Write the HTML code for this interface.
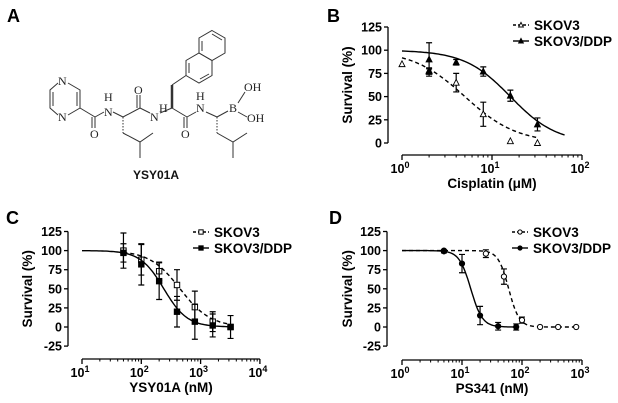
<!DOCTYPE html>
<html><head><meta charset="utf-8"><style>
html,body{margin:0;padding:0;background:#fff;}
svg{display:block;font-family:"Liberation Sans",Arial,sans-serif;}
</style></head><body>
<svg id="fig" width="618" height="403" viewBox="0 0 618 403" xmlns="http://www.w3.org/2000/svg">
<g font-family="Liberation Serif,serif" font-size="12" fill="#222">
<text x="7" y="22" font-family="Liberation Sans,sans-serif" font-weight="bold" font-size="18" fill="#000">A</text>
<g stroke="#333" stroke-width="1" fill="none">
<polyline points="68,83 80,90 80,108 68,115"/>
<polyline points="58,115 50,108 50,90 58,83"/>
<line x1="53" y1="92" x2="53" y2="106"/><line x1="77" y1="92" x2="77" y2="106"/>
<line x1="80" y1="108" x2="95" y2="117"/>
<line x1="95" y1="117" x2="95" y2="128"/><line x1="92" y1="117" x2="92" y2="128"/>
<line x1="95" y1="117" x2="104" y2="112"/>
<line x1="113" y1="112" x2="123" y2="117"/>
<line x1="123" y1="117" x2="123" y2="133" stroke-dasharray="1.5,1.5"/>
<polyline points="123,133 140,142 153,133"/><line x1="140" y1="142" x2="140" y2="158"/>
<line x1="123" y1="117" x2="140" y2="108"/>
<line x1="140" y1="108" x2="140" y2="95"/><line x1="137" y1="108" x2="137" y2="95"/>
<line x1="140" y1="108" x2="150" y2="113"/>
<line x1="160" y1="113" x2="172" y2="108"/>
<line x1="172" y1="108" x2="172" y2="85" stroke-width="2.5"/>
<line x1="172" y1="85" x2="186" y2="75.5"/>
<polygon points="199,53 212,60.5 212,75.5 199,83 186,75.5 186,60.5"/>
<polygon points="212,30.5 225,38 225,53 212,60.5 199,53 199,38"/>
<line x1="189" y1="73" x2="189" y2="63"/><line x1="209" y1="74" x2="200" y2="79"/><line x1="212" y1="34" x2="222" y2="40"/><line x1="202" y1="41" x2="202" y2="51"/>
<line x1="172" y1="108" x2="187" y2="117"/>
<line x1="187" y1="117" x2="187" y2="128"/><line x1="184" y1="117" x2="184" y2="128"/>
<line x1="187" y1="117" x2="196" y2="112"/>
<line x1="206" y1="112" x2="217" y2="117"/>
<line x1="217" y1="117" x2="217" y2="133" stroke-dasharray="1.5,1.5"/>
<polyline points="217,133 233,142 247,133"/><line x1="233" y1="142" x2="233" y2="158"/>
<line x1="217" y1="117" x2="228" y2="111"/>
<line x1="238" y1="103" x2="245" y2="92"/>
<line x1="238" y1="112" x2="247" y2="117"/>
</g>
<text x="58" y="85">N</text>
<text x="58" y="121">N</text>
<text x="90" y="138">O</text>
<text x="104" y="116">N</text>
<text x="104" y="101">H</text>
<text x="134" y="94">O</text>
<text x="150" y="121">N</text>
<text x="159" y="112">H</text>
<text x="181" y="138">O</text>
<text x="196" y="112">N</text>
<text x="196" y="100">H</text>
<text x="229" y="112">B</text>
<text x="244" y="91">OH</text>
<text x="247" y="122">OH</text>
<text x="156" y="179" text-anchor="middle" font-family="Liberation Sans,sans-serif" font-weight="bold" font-size="12" fill="#111">YSY01A</text>
</g>
<text x="327" y="22" font-weight="bold" font-size="18">B</text>
<text x="6" y="224" font-weight="bold" font-size="18">C</text>
<text x="329" y="224" font-weight="bold" font-size="18">D</text>
</svg>
<script>
// Panel B data
const B_skov_conc=[1,2,4,8,16,32];
const B_skov_val=[85,78,65,31,2,0];
const B_skov_err=[0,3,10,13,0,0];
const B_ddp_conc=[2,2,4,8,16,32];
const B_ddp_val=[90,77,87,77,51,20];
const B_ddp_err=[18,3,3,5,6,7];
const B_fit_ic50=[5,16];
const B_fit_hill=[1.5,1.7];
// Panel C data
const C_skov_conc=[50,100,200,400,800,1600,3200];
const C_skov_val=[100,88,73,55,26,7,0];
const C_skov_err=[23,20,12,20,21,13,0];
const C_ddp_conc=[50,100,200,400,800,1600,3200];
const C_ddp_val=[97,82,60,20,7,2,0];
const C_ddp_err=[12,27,24,20,23,15,15];
const C_fit_ic50=[450,240];
const C_fit_hill=[1.7,2.2];
// Panel D data
const D_skov_conc=[5,25,50,100,200,400,800];
const D_skov_val=[100,96,66,9,0,0,0];
const D_skov_err=[0,5,10,4,0,0,0];
const D_ddp_conc=[5,10,20,40,80];
const D_ddp_val=[99,83,15,1,0];
const D_ddp_err=[2,12,12,5,4];
const D_fit_ic50=[60,14];
const D_fit_hill=[5,4.5];
const yTicksB=[0,25,50,75,100,125];
const yTicksCD=[-25,0,25,50,75,100,125];

const NS='http://www.w3.org/2000/svg';
const fig=document.getElementById('fig');
function mk(tag,attrs,parent){const e=document.createElementNS(NS,tag);for(const k in attrs)e.setAttribute(k,attrs[k]);(parent||fig).appendChild(e);return e;}

function panel(p){
  const g=mk('g',{});
  
  
  const xs=v=>p.x0+(Math.log10(v)-p.dmin)*p.dpx;
  const ys=v=>p.y0-v*p.upx;
  const ya=mk('g',{},g);
  
  
  mk('line',{x1:p.ax,x2:p.ax,y1:ys(p.yt[p.yt.length-1]),y2:ys(p.yt[0]),stroke:'#000','stroke-width':1.3},ya);
  p.yt.forEach(t=>{
    mk('line',{x1:p.ax-4,x2:p.ax,y1:ys(t),y2:ys(t),stroke:'#000','stroke-width':1.3},ya);
    const tx=mk('text',{x:p.ax-6,y:ys(t)+4.5,'text-anchor':'end','font-size':12.5,'font-weight':'bold'},ya);
    
    
    tx.textContent=t;
  });
  const yl=mk('text',{x:0,y:0,'text-anchor':'middle','font-size':13.5,'font-weight':'bold',transform:`translate(${p.ylx},${(ys(p.yt[p.yt.length-1])+ys(p.yt[0]))/2}) rotate(-90)`},g);
  
  
  yl.textContent='Survival (%)';
  const xa=mk('g',{},g);
  
  
  mk('line',{x1:xs(Math.pow(10,p.dmin)),x2:xs(Math.pow(10,p.dmax)),y1:p.xay,y2:p.xay,stroke:'#000','stroke-width':1.3},xa);
  for(let d=p.dmin;d<=p.dmax;d++){
    const v=Math.pow(10,d);
    mk('line',{x1:xs(v),x2:xs(v),y1:p.xay,y2:p.xay+5,stroke:'#000','stroke-width':1.3},xa);
    if(d<p.dmax)for(let m=2;m<10;m++)mk('line',{x1:xs(m*v),x2:xs(m*v),y1:p.xay,y2:p.xay+2.5,stroke:'#000','stroke-width':1},xa);
    const tx=mk('text',{x:xs(v)-2,y:p.xay+18,'text-anchor':'middle','font-size':12.5,'font-weight':'bold'},xa);
    
    
    tx.textContent='10';
    const sup=mk('tspan',{dy:-5,'font-size':9},tx);sup.textContent=d;
  }
  const xl=mk('text',{x:(xs(Math.pow(10,p.dmin))+xs(Math.pow(10,p.dmax)))/2,y:p.xay+33,'text-anchor':'middle','font-size':13.5,'font-weight':'bold'},g);
  
  
  xl.textContent=p.xlabel;
  p.series.forEach((s,si)=>{
    const sg=mk('g',{},g);
    
    
    let d='';const n=80;
    for(let i=0;i<=n;i++){
      const lv=Math.log10(s.c0)+(Math.log10(s.c1)-Math.log10(s.c0))*i/n;
      const c=Math.pow(10,lv);
      const y=s.top/(1+Math.pow(c/s.ic50,s.hill));
      d+=(i?'L':'M')+xs(c).toFixed(1)+','+ys(y).toFixed(1);
    }
    const cv=mk('path',{d:d,fill:'none',stroke:'#000','stroke-width':1.4,'stroke-dasharray':s.dash?'4,3':'none'},sg);
    
    
    s.conc.forEach((c,i)=>{
      const x=xs(c),y=ys(s.val[i]),e=s.err[i];
      if(e>0){
        const eb=mk('path',{d:`M${x},${ys(s.val[i]+e)}V${ys(s.val[i]-e)}M${x-3},${ys(s.val[i]+e)}h6M${x-3},${ys(s.val[i]-e)}h6`,stroke:'#000','stroke-width':1.2,fill:'none'},sg);
        
        
      }
      const m=marker(sg,s.marker,s.filled,x,y,1);
      
      
    });
    const lg=mk('g',{},g);
    
    
    const ly=p.legY+si*16;
    mk('line',{x1:p.legX,x2:p.legX+16,y1:ly,y2:ly,stroke:'#000','stroke-width':1.4,'stroke-dasharray':s.dash?'3,2':'none'},lg);
    marker(lg,s.marker,s.filled,p.legX+8,ly,0.8);
    const lt=mk('text',{x:p.legX+21,y:ly+5,'font-size':13.5,'font-weight':'bold'},lg);
    lt.textContent=s.label;
  });
}
function marker(parent,type,filled,x,y,k){
  const f=filled?'#000':'#fff';
  if(type==='tri')return mk('polygon',{points:`${x},${y-3.3*k} ${x-3*k},${y+2.5*k} ${x+3*k},${y+2.5*k}`,fill:f,stroke:'#000','stroke-width':0.9},parent);
  if(type==='sq')return mk('rect',{x:x-2.7*k,y:y-2.7*k,width:5.4*k,height:5.4*k,fill:f,stroke:'#000','stroke-width':1},parent);
  return mk('circle',{cx:x,cy:y,r:2.6*k,fill:f,stroke:'#000','stroke-width':1},parent);
}
panel({name:'panel-b-chart',x0:402,dmin:0,dmax:2,dpx:90,y0:143,upx:0.928,ax:388,xay:155,ylx:352,yt:yTicksB,xlabel:'Cisplatin (\u03BCM)',legX:513,legY:25,
 series:[
  {name:'series-skov3',label:'SKOV3',conc:B_skov_conc,val:B_skov_val,err:B_skov_err,ic50:B_fit_ic50[0],hill:B_fit_hill[0],top:100,c0:1,c1:32,dash:true,marker:'tri',filled:false},
  {name:'series-skov3-ddp',label:'SKOV3/DDP',conc:B_ddp_conc,val:B_ddp_val,err:B_ddp_err,ic50:B_fit_ic50[1],hill:B_fit_hill[1],top:100,c0:1,c1:64,dash:false,marker:'tri',filled:true}]});
panel({name:'panel-c-chart',x0:82,dmin:1,dmax:4,dpx:59.3,y0:327,upx:0.764,ax:68,xay:359,ylx:32,yt:yTicksCD,xlabel:'YSY01A (nM)',legX:193,legY:232,
 series:[
  {name:'series-skov3',label:'SKOV3',conc:C_skov_conc,val:C_skov_val,err:C_skov_err,ic50:C_fit_ic50[0],hill:C_fit_hill[0],top:100,c0:50,c1:3200,dash:true,marker:'sq',filled:false},
  {name:'series-skov3-ddp',label:'SKOV3/DDP',conc:C_ddp_conc,val:C_ddp_val,err:C_ddp_err,ic50:C_fit_ic50[1],hill:C_fit_hill[1],top:100,c0:10,c1:3200,dash:false,marker:'sq',filled:true}]});
panel({name:'panel-d-chart',x0:402,dmin:0,dmax:3,dpx:60,y0:327,upx:0.764,ax:387,xay:360,ylx:352,yt:yTicksCD,xlabel:'PS341 (nM)',legX:512,legY:232,
 series:[
  {name:'series-skov3',label:'SKOV3',conc:D_skov_conc,val:D_skov_val,err:D_skov_err,ic50:D_fit_ic50[0],hill:D_fit_hill[0],top:100,c0:1,c1:800,dash:true,marker:'circ',filled:false},
  {name:'series-skov3-ddp',label:'SKOV3/DDP',conc:D_ddp_conc,val:D_ddp_val,err:D_ddp_err,ic50:D_fit_ic50[1],hill:D_fit_hill[1],top:100,c0:1,c1:80,dash:false,marker:'circ',filled:true}]});
</script>
</body></html>
